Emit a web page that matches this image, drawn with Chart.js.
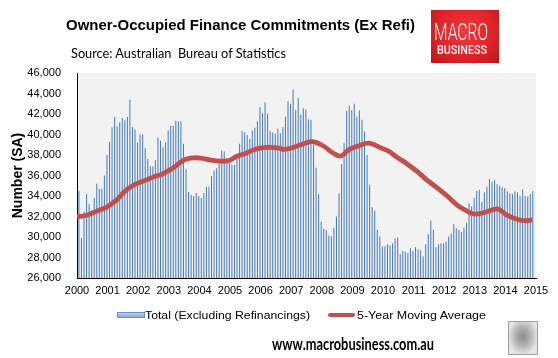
<!DOCTYPE html>
<html><head><meta charset="utf-8">
<script src="https://cdn.jsdelivr.net/npm/chart.js@4.4.0/dist/chart.umd.min.js"></script>
<style>
html,body{margin:0;padding:0;background:#fff;}
#wrap{position:relative;width:558px;height:358px;overflow:hidden;background:#fff;}
#c{position:absolute;left:0;top:0;}
.t{position:absolute;white-space:nowrap;line-height:1;transform-origin:0 50%;}
#logo{position:absolute;left:431px;top:10px;width:68px;height:53px;
 background:radial-gradient(ellipse at 50% 40%,#f2373a 0%,#e3242a 55%,#b8171c 100%);}
#wolf{position:absolute;left:508px;top:321px;width:28px;height:32px;border:1px solid #a0a0a0;
 background:radial-gradient(ellipse at 50% 45%,#8a8a8a 0%,#b5b5b5 40%,#e6e6e6 75%);}
</style></head><body>
<div id="wrap">
<canvas id="c" width="558" height="358"></canvas>
<div class="t" id="title" style="left:66px;top:16px;font:bold 15px 'Liberation Sans',Arial,sans-serif;color:#000;">Owner-Occupied Finance Commitments (Ex Refi)</div>
<div class="t" id="sub" style="left:71px;top:45px;font:13px Lato,'Open Sans',sans-serif;color:#000;">Source: Australian&nbsp; Bureau of Statistics</div>
<div id="logo">
 <div class="t" id="macro" style="left:3px;top:9px;font:300 23px Roboto,sans-serif;color:#fff;">MACRO</div>
 <div class="t" id="biz" style="left:6px;top:33px;font:500 12px Roboto,sans-serif;color:#fff;">BUSINESS</div>
</div>
<div style="position:absolute;left:117px;top:312px;width:26px;height:4px;border:1px solid #6d8fc4;background:linear-gradient(#b8cce8,#8eaedb);"></div>
<div class="t" id="leg1" style="left:145px;top:309px;font:11px 'Liberation Sans',Arial,sans-serif;color:#000;">Total (Excluding Refinancings)</div>
<div style="position:absolute;left:328px;top:313px;width:27px;height:4px;border-radius:2px;background:#C0504D;"></div>
<div class="t" id="leg2" style="left:357px;top:309px;font:11px 'Liberation Sans',Arial,sans-serif;color:#000;">5-Year Moving Average</div>
<div class="t" id="foot" style="left:272px;top:333px;font:bold 17px Lato,'Open Sans',sans-serif;color:#000;">www.macrobusiness.com.au</div>
<div id="wolf"></div>
</div>
<script>
// ---- data ----
const yearLabels = ['2000','2001','2002','2003','2004','2005','2006','2007','2008','2009','2010','2011','2012','2013','2014','2015'];
const monthNames = ['Jan','Feb','Mar','Apr','May','Jun','Jul','Aug','Sep','Oct','Nov','Dec'];
const totalCommitments = [
 34500,29900,32500,34200,33200,32600,33800,35200,34700,34700,36000,38000,
 39300,40700,41700,40800,41200,41600,41400,41700,43400,40700,40500,39200,
 40000,40000,38650,37600,36900,36900,37500,39700,39400,38750,39250,40400,
 40850,40850,41350,41300,41300,39100,36600,34400,34100,34000,34300,34000,
 33800,34300,34900,34900,35950,36500,36700,37500,38450,38350,37200,37200,
 37050,37050,38000,39100,40350,40200,39950,39550,40400,40650,41300,42650,
 42100,43150,42050,40350,40200,40100,40550,40100,40700,41750,43250,43000,
 44400,42400,43550,41950,42550,42450,41500,41450,39000,36750,34200,31500,
 30800,30700,30150,30050,30900,32000,34250,37100,39150,42300,42800,42400,
 43000,41750,42350,41450,40300,38000,35100,32900,32550,30700,30050,29050,
 29100,29300,29200,29400,29850,29950,28350,28650,28550,28450,28900,28650,
 29000,28800,28700,28100,29300,30300,31600,30700,29000,29300,29400,29400,
 29550,30050,30350,31250,30850,30700,30500,30900,31400,33300,33000,33800,
 34500,34600,33450,34350,34900,35650,35400,35550,35150,35000,34850,34750,
 34450,34250,34200,34450,34350,34000,34650,34000,33950,34200,34500
];
// 5-year moving average, read at positions in months from Jan 2000
const maPos = [0,3.5,7.5,11.5,15.5,18.5,22.5,26.5,30.5,33.5,37.5,41.5,44.5,48.5,52.5,56.5,59.5,62.5,66.5,70.5,74.5,78.5,81.5,85.5,89.5,92.5,96.5,100.5,103.5,106.5,110.5,114.5,119.5,122.5,125.5,129.5,133.5,137.5,141.5,145.5,149.5,152.5,155.5,159.5,163.5,165.5,168.5,172.5,175.5,178.5];
const maValue = [32000,32100,32500,32900,33600,34400,35100,35500,35900,36150,36700,37450,37700,37700,37500,37400,37450,37850,38200,38600,38750,38700,38550,38800,39150,39300,38900,38170,37900,38500,38900,39150,38650,38330,37780,37130,36370,35500,34750,33930,33030,32600,32250,32370,32700,32700,32150,31730,31600,31660];

const categories = [];
for (let y = 0; y < 15; y++) for (let m = 0; m < 12; m++) categories.push(monthNames[m] + ' ' + yearLabels[y]);

const tickFontStr = "11px 'Liberation Sans', Arial, sans-serif";
const bgPlugin = {
 id: 'bg',
 beforeDraw(chart) {
  const a = chart.chartArea, ctx = chart.ctx;
  ctx.save(); ctx.fillStyle = '#F2F2F2';
  ctx.fillRect(a.left, a.top, a.right - a.left, a.bottom - a.top);
  ctx.restore();
 },
 afterDraw(chart) {
  // year labels placed through the linear month scale
  const sc = chart.scales.xl, ctx = chart.ctx, a = chart.chartArea;
  ctx.save(); ctx.fillStyle = '#000'; ctx.font = tickFontStr;
  ctx.textAlign = 'center'; ctx.textBaseline = 'middle';
  yearLabels.forEach((lab, k) => ctx.fillText(lab, sc.getPixelForValue(k * 12), a.bottom + 13));
  ctx.restore();
 }
};
const tickFont = {family: "'Liberation Sans', Arial, sans-serif", size: 11};

new Chart(document.getElementById('c'), {
 type: 'bar',
 data: {
  labels: categories,
  datasets: [
   {type: 'line', label: '5-Year Moving Average', xAxisID: 'xl', yAxisID: 'y', order: 0,
    data: maPos.map((p, k) => ({x: p, y: maValue[k]})),
    borderColor: '#C0504D', borderWidth: 4.8, pointRadius: 0, tension: 0.4, fill: false},
   {type: 'bar', label: 'Total (Excluding Refinancings)', xAxisID: 'x', yAxisID: 'y', order: 1,
    data: totalCommitments, backgroundColor: '#4A7EBB', borderWidth: 0,
    categoryPercentage: 1, barPercentage: 0.82}
  ]
 },
 options: {
  responsive: false, animation: false, devicePixelRatio: 1,
  layout: {padding: {left: 10, right: 22, top: 73, bottom: 58}},
  plugins: {legend: {display: false}, tooltip: {enabled: false}},
  scales: {
   x: {type: 'category', offset: true, position: 'bottom',
       grid: {display: false}, ticks: {display: false},
       border: {display: true, color: '#000', width: 1},
       afterFit: s => { s.height = 0; }},
   xl: {type: 'linear', position: 'bottom', min: 0, max: 180, offset: false,
       grid: {display: false, offset: false}, border: {display: false},
       ticks: {display: false},
       afterFit: s => { s.height = 22; }},
   y: {min: 26000, max: 46000,
       grid: {display: false}, border: {display: true, color: '#000', width: 1},
       ticks: {stepSize: 2000, padding: 8, color: '#000', font: tickFont,
               callback: v => v.toLocaleString('en-US')},
       title: {display: true, text: 'Number (SA)', color: '#000', padding: {top: 0, bottom: 0},
               font: {family: "'Liberation Sans', Arial, sans-serif", size: 14, weight: 'bold'}},
       afterFit: s => { s.width = 67; }}
  }
 },
 plugins: [bgPlugin]
});

function fit(id, w) {
 const el = document.getElementById(id);
 el.style.transform = 'none';
 const r = el.getBoundingClientRect().width;
 if (r > 0) el.style.transform = 'scaleX(' + (w / r) + ')';
}
function fitAll() {
 fit('title', 349); fit('sub', 215); fit('foot', 162);
 fit('leg1', 165); fit('leg2', 129); fit('macro', 54); fit('biz', 50);
}
fitAll();
if (document.fonts && document.fonts.ready) document.fonts.ready.then(fitAll);
</script>
</body></html>
